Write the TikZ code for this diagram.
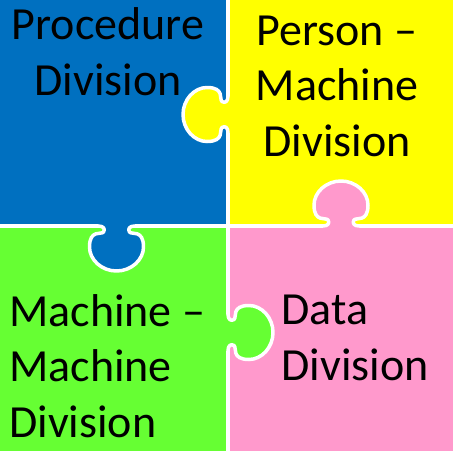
\documentclass[tikz,border=0pt]{standalone}
\usepackage{fontspec}
\setmainfont{Carlito}
\usepackage{xcolor}
\definecolor{pzblue}{RGB}{0,112,192}
\definecolor{pzyellow}{RGB}{255,255,0}
\definecolor{pzgreen}{RGB}{102,255,51}
\definecolor{pzpink}{RGB}{255,153,204}
\usepackage{tikz}
\usetikzlibrary{positioning}
% one puzzle knob, local frame: u outward, v along the seam
\newcommand{\knobcurve}{(0,-18) .. controls (0,-13) and (3,-11) .. (6,-13)
  .. controls (9,-15) and (3,-27) .. (21,-27)
  .. controls (33.7,-27) and (45,-14.9) .. (45,0)
  .. controls (45,14.9) and (33.7,27) .. (21,27)
  .. controls (3,27) and (9,15) .. (6,13)
  .. controls (3,11) and (0,13) .. (0,18)}
\tikzset{
  seam/.style   ={draw=white,line width=3.5pt,line cap=round,line join=round},
  divtext/.style={font=\fontsize{46}{55.5}\selectfont,inner sep=0pt,text=black},
}

\begin{document}
\begin{tikzpicture}[x=1pt,y=-1pt]
  \useasboundingbox (0,0) rectangle (453,451);
  % four pieces
  \fill[pzblue]   (0,0)     rectangle (228,226);
  \fill[pzyellow] (228,0)   rectangle (453,226);
  \fill[pzgreen]  (0,226)   rectangle (228,451);
  \fill[pzpink]   (228,226) rectangle (453,451);
  % seams between the pieces
  \draw[seam] (228,-5) -- (228,456);
  \draw[seam] (-5,226) -- (458,226);
  % knobs
  \begin{scope}[shift={(228,114.5)},rotate=180]
    \fill[pzyellow] (-2.5,-18) -- \knobcurve -- (-2.5,18) -- cycle;
    \draw[seam] \knobcurve;
  \end{scope}
  \begin{scope}[shift={(116.5,226)},rotate=-90]
    \fill[pzblue] (-2.5,-18) -- \knobcurve -- (-2.5,18) -- cycle;
    \draw[seam] \knobcurve;
  \end{scope}
  \begin{scope}[shift={(341,226)},rotate=90]
    \fill[pzpink] (-2.5,-18) -- \knobcurve -- (-2.5,18) -- cycle;
    \draw[seam] \knobcurve;
  \end{scope}
  \begin{scope}[shift={(228,332.5)}]
    \fill[pzgreen] (-2.5,-18) -- \knobcurve -- (-2.5,18) -- cycle;
    \draw[seam] \knobcurve;
  \end{scope}
  % division names (anchored on the last line)
  \node[divtext,align=center,anchor=base] (proc) at (108,95) {Procedure\\Division};
  \node[divtext,align=center,anchor=base] (pm) at (337,156) {Person –\\Machine\\Division};
  \node[divtext,align=left,anchor=base west] (mm) at (9,437) {Machine –\\Machine\\Division};
  \node[divtext,align=left,anchor=base west] (data) at (281.5,380) {Data\\Division};
\end{tikzpicture}
\end{document}
